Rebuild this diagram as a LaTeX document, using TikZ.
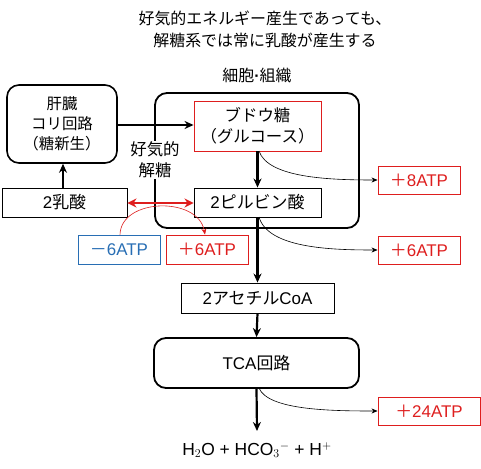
\documentclass[tikz,border=0pt]{standalone}
\usepackage{fontspec}
\setmainfont{Noto Sans CJK JP}
\newfontfamily\lat{Liberation Sans}
\usetikzlibrary{arrows.meta}
\definecolor{myred}{RGB}{222,30,30}
\definecolor{myblue}{RGB}{40,110,180}
\tikzset{
  bx/.style={draw, line width=0.9bp, inner sep=0pt, align=center, font=\fontsize{17}{20}\selectfont},
  rbx/.style={bx, draw=myred, text=myred},
  bbx/.style={bx, draw=myblue, text=myblue},
  rnd/.style={bx, line width=1.8bp, rounded corners=12bp},
  thick arr/.style={line width=2.2bp, -{Stealth[length=9bp,width=8bp]}},
  thin arr/.style={line width=0.6bp, -{Stealth[length=6bp,width=5bp]}},
  txt/.style={inner sep=0pt, align=center, font=\fontsize{16}{22}\selectfont},
}
\begin{document}
\begin{tikzpicture}[x=1bp,y=-1bp]
\useasboundingbox (0,0) rectangle (481,469);
% title
\node[txt] (title) at (265,29) {好気的エネルギー産生であっても、\\解糖系では常に乳酸が産生する};
% cell
\node[rnd, minimum width=204bp, minimum height=135bp] (cell) at (257,160.5) {};
\node[txt] (celllbl) at (257,75) {細胞{\lat\textbf{·}}組織};
% liver
\node[rnd, line width=1.6bp, minimum width=110bp, minimum height=78bp, font=\fontsize{15.5}{20}\selectfont] (liver) at (62,124) {肝臓\\コリ回路\\（糖新生）};
% boxes
\node[bx, draw=myred, minimum width=127bp, minimum height=50bp, font=\fontsize{16.5}{21}\selectfont] (glc) at (257.5,126) {ブドウ糖\\（グルコース）};
\node[bx, minimum width=127bp, minimum height=29bp] (pyr) at (257.5,202.5) {{\lat 2}ピルビン酸};
\node[bx, minimum width=125bp, minimum height=29bp] (lac) at (64.5,202.5) {{\lat 2}乳酸};
\node[bx, minimum width=153bp, minimum height=30bp] (acoa) at (257.5,298) {{\lat 2}アセチル{\lat CoA}};
\node[rnd, minimum width=205bp, minimum height=50bp] (tca) at (256.5,363) {{\lat TCA}回路};
\node[bbx, minimum width=82bp, minimum height=29bp] (m6) at (119,249.5) {－{\lat 6ATP}};
\node[rbx, minimum width=82bp, minimum height=29bp] (p6a) at (207,249.5) {＋{\lat 6ATP}};
\node[rbx, minimum width=82bp, minimum height=28bp] (p8) at (419,180) {＋{\lat 8ATP}};
\node[rbx, minimum width=82bp, minimum height=28bp] (p6b) at (419,250) {＋{\lat 6ATP}};
\node[rbx, minimum width=102bp, minimum height=28bp] (p24) at (429,411) {＋{\lat 24ATP}};
\node[txt, font=\fontsize{17.5}{20}\lat] (prod) at (257,450) {H$_2$O + HCO$_3$$^{-}$ + H$^{+}$};
\coordinate (end) at (257,431);
% aerobic glycolysis label
\node[txt, fill=white, inner sep=1bp, font=\fontsize{16.5}{21}\selectfont] (aer) at (155,160) {好気的\\解糖};
% arrows
\draw[thick arr] (lac.north -| 63,0) -- (liver.south -| 63,0);
\draw[thick arr] (liver.east |- 0,125) -- (glc.west |- 0,125);
\draw[thick arr] (glc.south) -- (pyr.north);
\draw[thick arr] (pyr.south) -- (acoa.north);
\draw[thick arr] (acoa.south) -- (tca.north);
\draw[thick arr] (tca.south) -- (end);
\draw[line width=2.4bp, myred, {Stealth[length=9bp,width=9bp]}-{Stealth[length=9bp,width=9bp]}] (lac.east |- 0,203) -- (pyr.west |- 0,203);
\draw[thin arr, myred] (m6.north -| 120,0) .. controls (121,198) and (198,196) .. (p6a.north -| 205,0);
\draw[thin arr] (259,151) .. controls (268,178) and (330,180) .. (p8.west);
\draw[thin arr] (259,217) .. controls (268,248) and (330,250) .. (p6b.west);
\draw[thin arr] (259,388) .. controls (268,410) and (330,411) .. (p24.west);
\end{tikzpicture}
\end{document}
